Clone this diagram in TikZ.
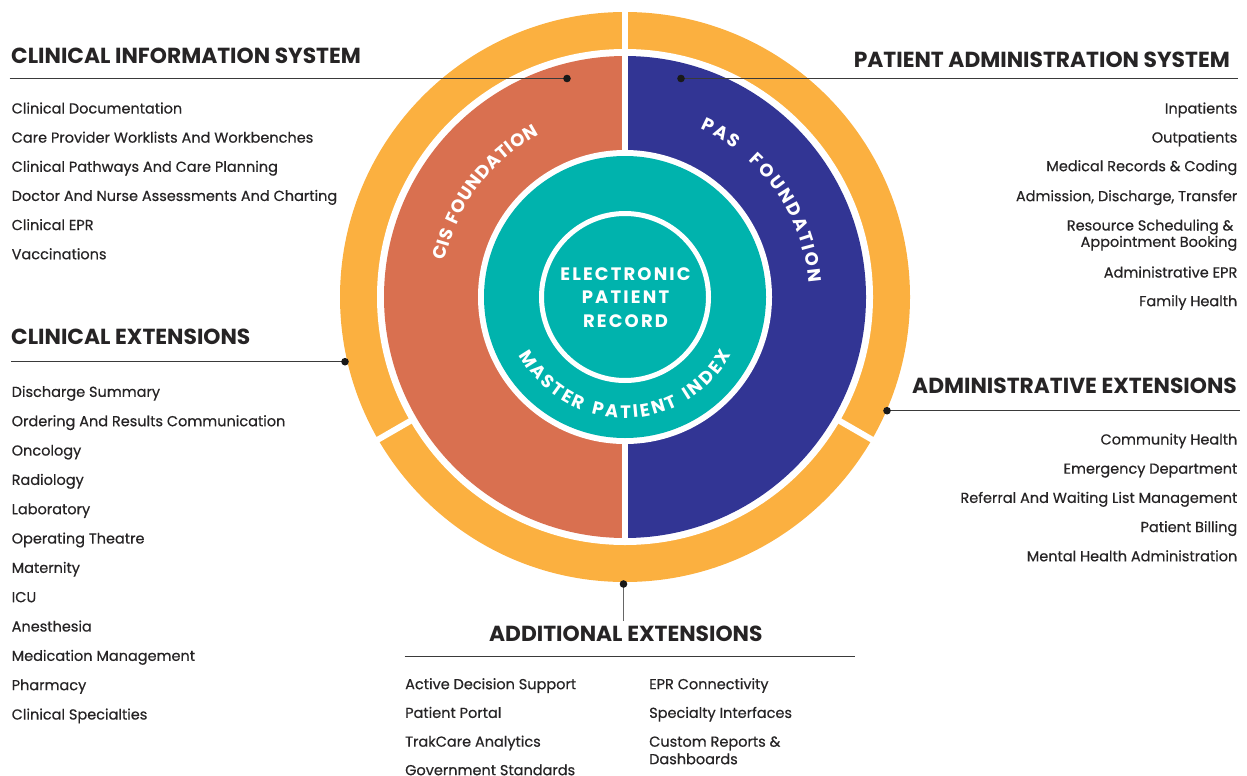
\documentclass[tikz,border=0pt]{standalone}
\usepackage{fontspec}
\setmainfont{Poppins}
\usetikzlibrary{calc}
\definecolor{ringorange}{HTML}{FBB040}
\definecolor{cisred}{HTML}{D97050}
\definecolor{pasblue}{HTML}{323594}
\definecolor{mpiteal}{HTML}{00B3AD}
\definecolor{txtdark}{HTML}{262425}
\definecolor{leadgray}{HTML}{3A3A3A}
\newfontfamily\itemfam{Poppins}[FakeBold=0.5]
\newcommand\hfont{\bfseries\fontsize{21.8pt}{23pt}\selectfont}
\newcommand\ifont{\itemfam\fontsize{14.5pt}{17pt}\selectfont}
\newcommand\cfont{\bfseries\fontsize{18pt}{19pt}\selectfont}
\newfontfamily\ctrfam{Poppins}[LetterSpace=12]
\newcommand\gp{\hspace{5pt}}
\newlength\chlen
% measure letters outside the picture: #1 name, #2 tracking, #3 letters
\newcommand\prepletters[3]{%
  \gdef\pltot{0}\gdef\pllist{}%
  \foreach \ch in {#3}{%
    \settowidth{\chlen}{\cfont\ch}%
    \pgfmathsetmacro\chw{\chlen}%
    \pgfmathsetmacro\tmpw{\pltot+\chw+(#2)}\xdef\pltot{\tmpw}%
    \ifx\pllist\empty
      \xdef\pllist{\unexpanded\expandafter{\ch}/\chw}%
    \else
      \xdef\pllist{\unexpanded\expandafter{\pllist},\unexpanded\expandafter{\ch}/\chw}%
    \fi
  }%
  \pgfmathsetmacro\tmpw{\pltot-(#2)}%
  \expandafter\xdef\csname #1tot\endcsname{\tmpw}%
  \expandafter\xdef\csname #1list\endcsname{\unexpanded\expandafter{\pllist}}%
}
% place letters: #1 baseline radius, #2 centre angle, #3 direction (1 top / -1 bottom), #4 tracking, #5 name
\newcommand\arcletters[5]{%
  \gdef\arccum{0}%
  \expandafter\let\expandafter\arctot\csname #5tot\endcsname
  \expandafter\let\expandafter\thelist\csname #5list\endcsname
  \foreach \ch/\chw [count=\k] in \thelist {%
    \pgfmathsetmacro\ang{(#2)+(#3)*(\arccum+\chw/2-\arctot/2)/(#1)*180/pi}%
    \pgfmathsetmacro\rot{-1*(\ang)-90*(#3)}%
    \node[anchor=base, inner sep=0pt, outer sep=0pt, text=white, font=\cfont, rotate=\rot] (#5-\k) at ($(c)+(\ang:#1)$) {\ch};
    \pgfmathsetmacro\tmpw{\arccum+\chw+(#4)}%
    \xdef\arccum{\tmpw}%
  }%
}
\tikzset{
  head/.style={font=\hfont, text=txtdark, inner sep=0pt},
  itemL/.style={font=\ifont, text=txtdark, inner sep=0pt, anchor=base west},
  itemR/.style={font=\ifont, text=txtdark, inner sep=0pt, anchor=base east},
  leader/.style={draw=leadgray, line width=1.2pt},
  dotmark/.style={fill=black!90},
  gapline/.style={draw=white, line width=6pt},
}
\begin{document}
\prepletters{cis}{0.6}{C,I,S,\gp,F,O,U,N,D,A,T,I,O,N}%
\prepletters{pas}{2.2}{P,A,S}%
\prepletters{fnd}{2.15}{F,O,U,N,D,A,T,I,O,N}%
\prepletters{mpi}{2.5}{M,A,S,T,E,R,\gp,P,A,T,I,E,N,T,\gp,I,N,D,E,X}%
\begin{tikzpicture}[x=1pt,y=-1pt]
\useasboundingbox (0,0) rectangle (1247,776);
\coordinate (c) at (625,297);
% outer ring
\fill[ringorange] (c) circle (285);
\fill[white] (c) circle (248);
% half discs
\fill[cisred] (c) ++(-90:241) arc[start angle=-90, end angle=-270, radius=241] -- cycle;
\fill[pasblue] (c) ++(-90:241) arc[start angle=-90, end angle=90, radius=241] -- cycle;
% white separators
\draw[gapline] ($(c)+(0,-292)$) -- ($(c)+(0,242)$);
\draw[gapline] ($(c)+(150:244)$) -- ($(c)+(150:292)$);
\draw[gapline] ($(c)+(30:244)$) -- ($(c)+(30:292)$);
% master patient index ring and centre
\fill[white] (c) circle (147);
\fill[mpiteal] (c) circle (141);
\draw[white, line width=5pt] (c) circle (83.5);
\node[font=\ctrfam\bfseries\fontsize{18pt}{23.4pt}\selectfont, text=white, align=center, anchor=base, inner sep=0pt] (epr) at (625.5,327) {ELECTRONIC\\PATIENT\\RECORD};
% curved labels
\arcletters{183.5}{216.8}{1}{0.6}{cis}
\arcletters{184}{-59.7}{1}{2.2}{pas}
\arcletters{184}{-26}{1}{2.15}{fnd}
\arcletters{121}{90}{-1}{2.5}{mpi}
% ---- Clinical Information System
\node[head, anchor=base west] (cishead) at (11,63.7) {CLINICAL INFORMATION SYSTEM};
\coordinate (cisL) at (9.5,78.5);
\coordinate (cisdot) at (567,78.5);
\draw[leader] (cisL) -- (cisdot);
\fill[dotmark] (cisdot) circle (3.8);
\foreach \t [count=\i] in {Clinical Documentation, Care Provider Worklists And Workbenches, Clinical Pathways And Care Planning, Doctor And Nurse Assessments And Charting, Clinical EPR, Vaccinations}
  \node[itemL] (cis\i) at (11.5,{108.3+(\i-1)*29.15+5.2}) {\t};
% ---- Patient Administration System
\node[head, anchor=base east] (pashead) at (1230,67.3) {PATIENT ADMINISTRATION SYSTEM};
\coordinate (pasR) at (1238,78.5);
\coordinate (pasdot) at (681,78.5);
\draw[leader] (pasdot) -- (pasR);
\fill[dotmark] (pasdot) circle (3.8);
\node[itemR] (pas1) at (1237.5,113.5) {Inpatients};
\node[itemR] (pas2) at (1237.5,142.5) {Outpatients};
\node[itemR] (pas3) at (1237.5,171.2) {Medical Records \& Coding};
\node[itemR] (pas4) at (1237.5,201.2) {Admission, Discharge, Transfer};
\node[itemR] (pas5) at (1233.5,230.5) {Resource Scheduling \&};
\node[itemR] (pas6) at (1237.5,246.9) {Appointment Booking};
\node[itemR] (pas7) at (1237.5,277.5) {Administrative EPR};
\node[itemR] (pas8) at (1237.5,306.2) {Family Health};
% ---- Clinical Extensions
\node[head, anchor=base west] (cexhead) at (11,344.5) {CLINICAL EXTENSIONS};
\coordinate (cexL) at (11,361.7);
\coordinate (cexdot) at (345,361.7);
\draw[leader] (cexL) -- (cexdot);
\fill[dotmark] (cexdot) circle (3.8);
\foreach \t [count=\i] in {Discharge Summary, Ordering And Results Communication, Oncology, Radiology, Laboratory, Operating Theatre, Maternity, ICU, Anesthesia, Medication Management, Pharmacy, Clinical Specialties}
  \node[itemL] (cex\i) at (11.5,{391.7+(\i-1)*29.33+5.2}) {\t};
% ---- Administrative Extensions
\node[head, anchor=base east] (aexhead) at (1237,393.3) {ADMINISTRATIVE EXTENSIONS};
\coordinate (aexR) at (1240,410.7);
\coordinate (aexdot) at (887,410.7);
\draw[leader] (aexdot) -- (aexR);
\fill[dotmark] (aexdot) circle (3.8);
\foreach \t [count=\i] in {Community Health, Emergency Department, Referral And Waiting List Management, Patient Billing, Mental Health Administration}
  \node[itemR] (aex\i) at (1237.5,{439.3+(\i-1)*29.2+5.2}) {\t};
% ---- Additional Extensions
\coordinate (adddot) at (623.5,584);
\coordinate (addend) at (623.5,621);
\draw[leader, draw=black!60, line width=1.5pt] (adddot) -- (addend);
\fill[dotmark] (adddot) circle (3.8);
\node[head, anchor=base] (addhead) at (625.8,641.5) {ADDITIONAL EXTENSIONS};
\coordinate (addL) at (404.5,656.7);
\coordinate (addR) at (855,656.7);
\draw[leader] (addL) -- (addR);
\node[itemL] (add1) at (405,689.2) {Active Decision Support};
\node[itemL] (add2) at (405,717.9) {Patient Portal};
\node[itemL] (add3) at (405,746.7) {TrakCare Analytics};
\node[itemL] (add4) at (405,775.2) {Government Standards};
\node[itemL] (add5) at (649,689.2) {EPR Connectivity};
\node[itemL] (add6) at (649,717.9) {Specialty Interfaces};
\node[itemL] (add7) at (649,746.7) {Custom Reports \&};
\node[itemL] (add8) at (649,764.2) {Dashboards};
\end{tikzpicture}
\end{document}
